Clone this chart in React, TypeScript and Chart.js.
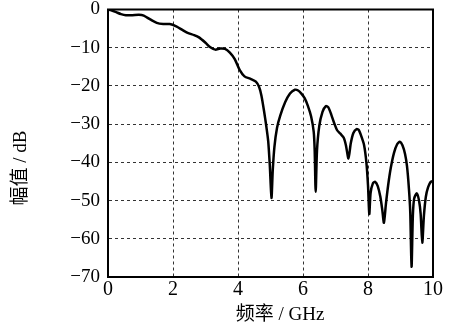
import { useEffect, useRef } from "react";
import { Chart, registerables } from "chart.js";

Chart.register(...registerables);

const freqGHz = [
  0, 0.1, 0.25, 0.4, 0.55, 0.75, 0.95, 1.1, 1.3, 1.5, 1.7, 1.9, 2.1, 2.3, 2.45, 2.65, 2.8, 3.0, 3.15, 3.3,
  3.45, 3.6, 3.75, 3.9, 4.05, 4.2, 4.4, 4.55, 4.65, 4.72, 4.8, 4.87, 4.93, 4.98, 5.03, 5.07, 5.12, 5.2,
  5.3, 5.45, 5.6, 5.75, 5.85, 5.95, 6.05, 6.15, 6.25, 6.33, 6.36, 6.39, 6.43, 6.5, 6.6, 6.7, 6.78, 6.87,
  6.95, 7.05, 7.15, 7.25, 7.32, 7.4, 7.47, 7.55, 7.65, 7.72, 7.8, 7.88, 7.95, 8.0, 8.04, 8.08, 8.15, 8.22,
  8.3, 8.38, 8.44, 8.49, 8.55, 8.62, 8.7, 8.8, 8.9, 8.98, 9.06, 9.14, 9.2, 9.26, 9.3, 9.34, 9.38, 9.42,
  9.5, 9.57, 9.62, 9.67, 9.72, 9.78, 9.85, 9.93, 10,
];
const magnitudeDB = [
  0, -0.2, -0.7, -1.2, -1.5, -1.5, -1.4, -1.6, -2.6, -3.5, -3.8, -3.8, -4.4, -5.4, -6.1, -6.7, -7.3, -8.7, -9.9, -10.5,
  -10.2, -10.3, -11.3, -13.0, -15.8, -17.5, -18.2, -18.9, -20.3, -22.5, -26.5, -30.5, -34.5, -41, -49.3, -42, -36, -31,
  -27.8, -24.3, -22.0, -21.0, -21.2, -22.0, -23.2, -25.2, -28, -32, -37, -47.7, -37, -30.5, -26.8, -25.3, -25.6, -27.5,
  -29.5, -31.6, -32.5, -33.5, -35.5, -39, -35, -32.3, -31.3, -31.6, -33.3, -35.5, -40, -46, -53.5, -48, -45.5, -45.1,
  -46.2, -49, -52.5, -55.8, -51, -46, -41.5, -37.5, -35.2, -34.6, -35.5, -37.8, -41, -47, -53, -67.3, -54, -49.5,
  -48.1, -50, -53.5, -61, -54, -49, -46.5, -45.1, -44.9,
];
const xTickValues = [0, 2, 4, 6, 8, 10];
const yTickValues = [0, -10, -20, -30, -40, -50, -60, -70];
const xTitle = "频率 / GHz";
const yTitle = "幅值 / dB";

const FONT = '"Liberation Serif", "Noto Sans CJK SC", serif';

export default function App() {
  const canvasRef = useRef<HTMLCanvasElement | null>(null);

  useEffect(() => {
    const canvas = canvasRef.current;
    if (!canvas) return;
    const points = freqGHz.map((x, i) => ({ x, y: magnitudeDB[i] }));

    const framePlugin = {
      id: "frameAndTitles",
      afterDraw(chart: any) {
        const { ctx, chartArea } = chart;
        ctx.save();
        ctx.strokeStyle = "#000";
        ctx.lineWidth = 2;
        ctx.strokeRect(chartArea.left, chartArea.top, chartArea.right - chartArea.left, chartArea.bottom - chartArea.top);
        ctx.fillStyle = "#000";
        ctx.font = `19px ${FONT}`;
        ctx.textAlign = "center";
        ctx.textBaseline = "middle";
        ctx.fillText(xTitle, 280, 315);
        ctx.translate(21, 168);
        ctx.rotate(-Math.PI / 2);
        ctx.fillText(yTitle, 0, 0);
        ctx.restore();
      },
    };

    const chart = new Chart(canvas, {
      type: "line",
      data: {
        datasets: [
          {
            data: points,
            borderColor: "#000",
            borderWidth: 2.5,
            pointRadius: 0,
            tension: 0.25,
            fill: false,
          },
        ],
      },
      options: {
        animation: false,
        responsive: false,
        layout: { autoPadding: false, padding: { left: 0, right: 20, top: 9.5, bottom: 0 } },
        plugins: { legend: { display: false }, tooltip: { enabled: false } },
        scales: {
          x: {
            type: "linear",
            min: 0,
            max: 10,
            afterBuildTicks: (s: any) => {
              s.ticks = xTickValues.map((v) => ({ value: v }));
            },
            afterFit: (s: any) => {
              s.height = 49;
              s.paddingLeft = 0;
              s.paddingRight = 0;
            },
            grid: { color: "#333", lineWidth: 1, drawTicks: false },
            border: { display: true, color: "#000", width: 2, dash: [3, 3] },
            ticks: {
              color: "#000",
              padding: 3,
              font: { family: FONT, size: 20, lineHeight: 1 },
              maxRotation: 0,
              callback: (v: any) => String(v),
            },
          },
          y: {
            type: "linear",
            min: -70,
            max: 0,
            afterBuildTicks: (s: any) => {
              s.ticks = yTickValues.map((v) => ({ value: v }));
            },
            afterFit: (s: any) => {
              s.width = 108;
              s.paddingTop = 0;
              s.paddingBottom = 0;
            },
            grid: { color: "#333", lineWidth: 1, drawTicks: false },
            border: { display: true, color: "#000", width: 2, dash: [3, 3] },
            ticks: {
              color: "#000",
              padding: 8,
              font: { family: FONT, size: 19, lineHeight: 1 },
              callback: (v: any) => (Number(v) < 0 ? "\u2212" + Math.abs(Number(v)) : String(v)),
            },
          },
        },
      } as any,
      plugins: [framePlugin],
    });

    return () => chart.destroy();
  }, []);

  return (
    <div style={{ position: "fixed", left: 0, top: 0, width: 453, height: 326, background: "#fff" }}>
      <canvas ref={canvasRef} width={453} height={326} style={{ display: "block" }} />
    </div>
  );
}
